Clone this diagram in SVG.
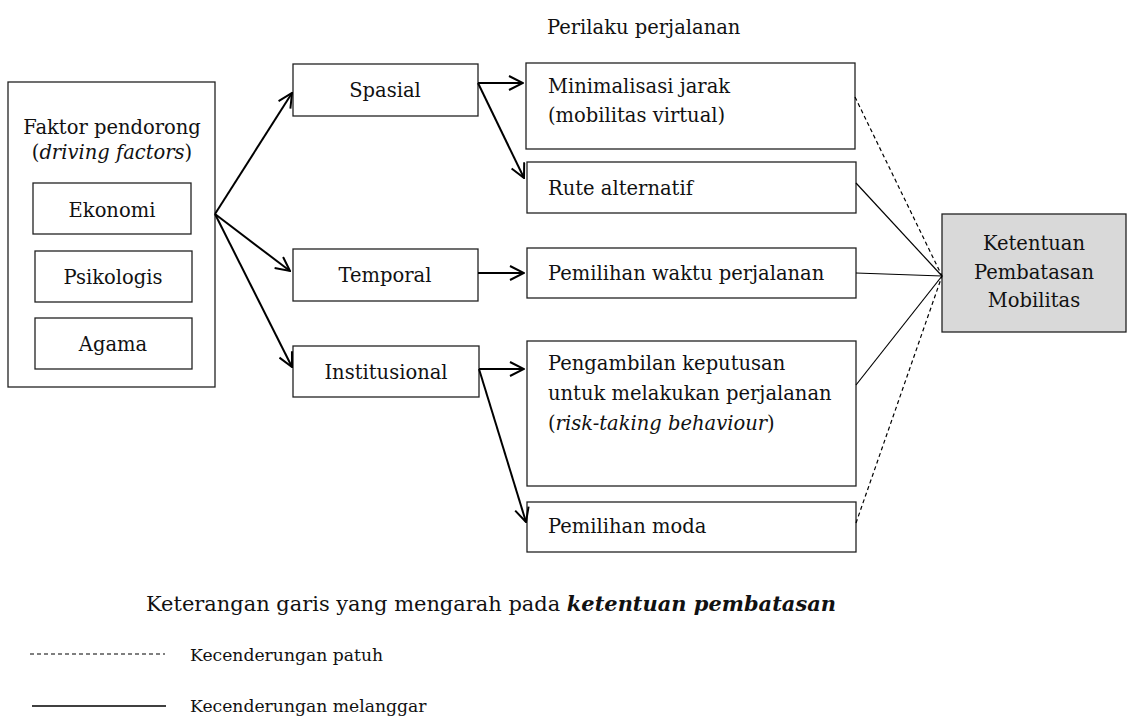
<svg xmlns="http://www.w3.org/2000/svg" width="1127" height="722" viewBox="0 0 1127 722">
<defs>
<style>
text{font-family:"DejaVu Serif","Liberation Serif",serif;font-size:19.5px;fill:#111}
.c{text-anchor:middle}
.lg{font-size:17.2px}
.ttl{font-size:20px}
.box{fill:#fff;stroke:#222;stroke-width:1.3}
.arr{fill:none;stroke:#000;stroke-width:2;marker-end:url(#ah)}
.sol{fill:none;stroke:#000;stroke-width:1.2}
.dash{fill:none;stroke:#000;stroke-width:1.2;stroke-dasharray:4 3}
</style>
<marker id="ah" viewBox="0 0 16 16" refX="15" refY="8" markerWidth="16" markerHeight="16" markerUnits="userSpaceOnUse" orient="auto">
<polyline points="1,1 15,8 1,15" fill="none" stroke="#000" stroke-width="2"/>
</marker>
</defs>
<rect width="1127" height="722" fill="#fff"/>
<text x="547" y="34">Perilaku perjalanan</text>
<g id="faktor">
<rect class="box" x="8" y="82" width="207" height="305"/>
<text class="c" x="112" y="134">Faktor pendorong</text>
<text class="c" x="112" y="159">(<tspan font-style="italic">driving factors</tspan>)</text>
</g>
<g id="ekonomi"><rect class="box" x="33" y="183" width="158" height="51"/><text class="c" x="112" y="217">Ekonomi</text></g>
<g id="psikologis"><rect class="box" x="35" y="251" width="157" height="51"/><text class="c" x="113" y="284">Psikologis</text></g>
<g id="agama"><rect class="box" x="35" y="318" width="157" height="51"/><text class="c" x="113" y="351">Agama</text></g>
<g id="spasial"><rect class="box" x="293" y="64" width="185" height="52"/><text class="c" x="385" y="97">Spasial</text></g>
<g id="temporal"><rect class="box" x="293" y="249" width="185" height="52"/><text class="c" x="385" y="282">Temporal</text></g>
<g id="institusional"><rect class="box" x="293" y="346" width="186" height="51"/><text class="c" x="386" y="379">Institusional</text></g>
<g id="minimalisasi"><rect class="box" x="526" y="63" width="329" height="86"/><text x="548" y="93">Minimalisasi jarak</text><text x="548" y="122">(mobilitas virtual)</text></g>
<g id="rute"><rect class="box" x="527" y="162" width="329" height="51"/><text x="548" y="195">Rute alternatif</text></g>
<g id="waktu"><rect class="box" x="527" y="248" width="329" height="50"/><text x="548" y="280">Pemilihan waktu perjalanan</text></g>
<g id="pengambilan"><rect class="box" x="527" y="341" width="329" height="145"/><text x="548" y="370">Pengambilan keputusan</text><text x="548" y="400">untuk melakukan perjalanan</text><text x="548" y="430">(<tspan font-style="italic">risk-taking behaviour</tspan>)</text></g>
<g id="moda"><rect class="box" x="527" y="502" width="329" height="50"/><text x="548" y="533">Pemilihan moda</text></g>
<g id="ketentuan"><rect x="942" y="214" width="184" height="118" fill="#d9d9d9" stroke="#222" stroke-width="1.3"/><text class="c" x="1034" y="250">Ketentuan</text><text class="c" x="1034" y="279">Pembatasan</text><text class="c" x="1034" y="307">Mobilitas</text></g>
<g id="connectors">
<path class="arr" d="M215,214 L292,93"/>
<path class="arr" d="M215,214 L290,271"/>
<path class="arr" d="M215,214 L292,367"/>
<path class="arr" d="M478,83 L523,83"/>
<path class="arr" d="M478,83 L524,178"/>
<path class="arr" d="M478,273 L524,273"/>
<path class="arr" d="M479,369 L524,369"/>
<path class="arr" d="M479,369 L526,522"/>
<path class="dash" d="M855,97 L942,276"/>
<path class="sol" d="M856,183 L942,276"/>
<path class="sol" d="M856,273 L942,276"/>
<path class="sol" d="M856,385 L942,276"/>
<path class="dash" d="M856,523 L942,276"/>
</g>
<g id="legend">
<text class="ttl" x="146" y="611" textLength="690" lengthAdjust="spacingAndGlyphs">Keterangan garis yang mengarah pada <tspan font-weight="bold" font-style="italic">ketentuan pembatasan</tspan></text>
<path class="dash" d="M30,654 L165,654"/>
<text class="lg" x="190" y="661">Kecenderungan patuh</text>
<path d="M32,706 L166,706" stroke="#000" stroke-width="1.5"/>
<text class="lg" x="190" y="712">Kecenderungan melanggar</text>
</g>
</svg>
